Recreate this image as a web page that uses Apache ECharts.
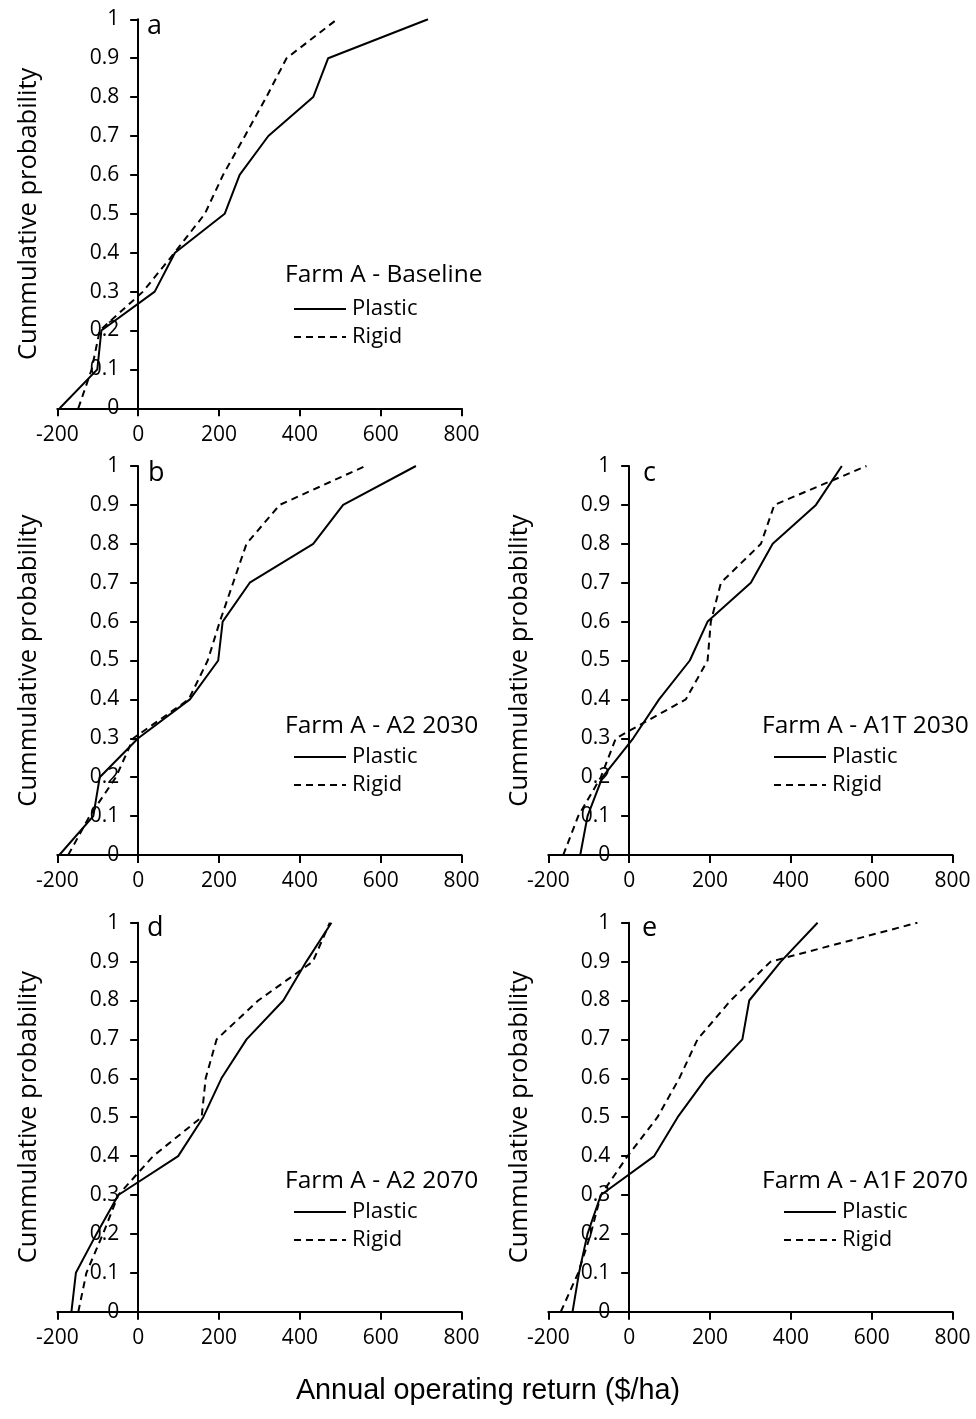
<!DOCTYPE html>
<html>
<head>
<meta charset="utf-8">
<script src="https://cdn.jsdelivr.net/npm/echarts@6/dist/echarts.min.js"></script>
<style>
  html, body { margin: 0; padding: 0; background: #fff; }
  #chart { width: 976px; height: 1419px; }
</style>
</head>
<body>
<div id="chart"></div>
<script>
// Cumulative probability levels shared by every curve
const probLevels = [0, 0.1, 0.2, 0.3, 0.4, 0.5, 0.6, 0.7, 0.8, 0.9, 1.0];

// Annual operating return ($/ha) at each probability level
const plasticBaseline = [-194, -101, -91, 41, 91, 214, 251, 322, 433, 470, 717];
const rigidBaseline   = [-148, -115, -95, 12, 90, 165, 210, 264, 317, 367, 492];

const plasticA2_2030  = [-195, -111, -95, 0, 128, 198, 209, 276, 433, 507, 687];
const rigidA2_2030    = [-173, -120, -55, -12, 125, 172, 202, 235, 268, 350, 562];

const plasticA1T_2030 = [-121, -103, -66, 10, 74, 150, 194, 301, 355, 462, 526];
const rigidA1T_2030   = [-163, -126, -70, -33, 140, 194, 202, 227, 326, 359, 587];

const plasticA2_2070  = [-165, -154, -103, -49, 99, 161, 206, 268, 359, 416, 478];
const rigidA2_2070    = [-148, -128, -87, -49, 37, 157, 167, 194, 297, 432, 474];

const plasticA1F_2070 = [-140, -124, -103, -70, 62, 120, 190, 280, 297, 375, 466];
const rigidA1F_2070   = [-169, -126, -95, -70, -4, 70, 124, 169, 251, 350, 713];

const panelLetters = ['a', 'b', 'c', 'd', 'e'];
const panelTitles = ['Farm A - Baseline', 'Farm A - A2 2030', 'Farm A - A1T 2030',
                     'Farm A - A2 2070', 'Farm A - A1F 2070'];
const seriesNames = ['Plastic', 'Rigid'];
const panelData = [
  [plasticBaseline, rigidBaseline],
  [plasticA2_2030, rigidA2_2030],
  [plasticA1T_2030, rigidA1T_2030],
  [plasticA2_2070, rigidA2_2070],
  [plasticA1F_2070, rigidA1F_2070]
];
const xTickMin = -200, xTickMax = 800, xTickStep = 200;
const yAxisName = 'Cummulative probability';
const xAxisName = 'Annual operating return ($/ha)';

// Layout of the five panels (pixels)
const FONT = '"Open Sans", sans-serif';
const panels = [
  { left: 57.3,  top: 19.3,  titleX: 285, titleY: 263, legX: 293, legY: 298, letterX: 147, letterY: 13 },
  { left: 57.3,  top: 466,   titleX: 285, titleY: 714, legX: 293, legY: 746, letterX: 148, letterY: 460 },
  { left: 548.3, top: 466,   titleX: 762, titleY: 714, legX: 773, legY: 746, letterX: 643, letterY: 460 },
  { left: 57.3,  top: 922.7, titleX: 285, titleY: 1169, legX: 293, legY: 1201, letterX: 147, letterY: 915 },
  { left: 548.3, top: 922.7, titleX: 762, titleY: 1169, legX: 783, legY: 1201, letterX: 642, letterY: 915 }
];
const gridW = 404.3, gridH = 389;
// the vertical axis sits at x = 0, i.e. shifted right from the grid's left edge
const yAxisShift = gridW * (0 - xTickMin) / (xTickMax - xTickMin);

const grid = [], xAxis = [], yAxis = [], series = [], title = [], legend = [];

panels.forEach((p, i) => {
  grid.push({ left: p.left, top: p.top, width: gridW, height: gridH,
              containLabel: false, outerBoundsMode: 'none' });
  xAxis.push({
    type: 'value', gridIndex: i, min: xTickMin, max: xTickMax, interval: xTickStep,
    splitLine: { show: false },
    axisLine: { show: true, onZero: false, lineStyle: { color: '#000', width: 2 } },
    axisTick: { show: true, inside: false, length: 8, lineStyle: { color: '#000', width: 2 } },
    axisLabel: { color: '#000', fontSize: 21, fontFamily: FONT, margin: 16 }
  });
  yAxis.push({
    type: 'value', gridIndex: i, min: 0, max: 1, interval: 0.1,
    offset: -yAxisShift,
    name: yAxisName, nameLocation: 'middle', nameGap: 96,
    nameTextStyle: { color: '#000', fontSize: 25.5, fontFamily: FONT },
    splitLine: { show: false },
    axisLine: { show: true, onZero: false, lineStyle: { color: '#000', width: 2 } },
    axisTick: { show: true, inside: false, length: 8, lineStyle: { color: '#000', width: 2 } },
    axisLabel: { color: '#000', fontSize: 21, fontFamily: FONT, margin: 19 }
  });
  panelData[i].forEach((vals, k) => {
    series.push({
      type: 'line', name: seriesNames[k], xAxisIndex: i, yAxisIndex: i,
      data: vals.map((x, j) => [x, probLevels[j]]),
      symbol: 'none', silent: true, animation: false, z: 3,
      itemStyle: { color: '#000' },
      lineStyle: { color: '#000', width: 2, type: k === 0 ? 'solid' : [7, 5] }
    });
  });
  title.push({
    text: panelTitles[i], left: p.titleX, top: p.titleY, padding: 0,
    textStyle: { color: '#000', fontSize: 24.5, fontWeight: 'normal', fontFamily: FONT }
  });
  title.push({
    text: panelLetters[i], left: p.letterX, top: p.letterY, padding: 0,
    textStyle: { color: '#000', fontSize: 27, fontWeight: 'normal', fontFamily: FONT }
  });
  legend.push({
    data: seriesNames, orient: 'vertical', left: p.legX, top: p.legY, padding: 0,
    itemWidth: 52, itemHeight: 14, itemGap: 6, selectedMode: false,
    itemStyle: { opacity: 0 },
    textStyle: { color: '#000', fontSize: 22, fontFamily: FONT, lineHeight: 21, padding: [0, 0, 0, 1] }
  });
});

title.push({
  text: xAxisName, left: 'center', top: 1377, padding: 0,
  textStyle: { color: '#000', fontSize: 28.8, fontWeight: 'normal', fontFamily: '"Liberation Sans", Arial, sans-serif' }
});

const chart = echarts.init(document.getElementById('chart'), null, { renderer: 'canvas' });
chart.setOption({
  backgroundColor: '#fff',
  animation: false,
  grid, xAxis, yAxis, series, title, legend
});
</script>
</body>
</html>
